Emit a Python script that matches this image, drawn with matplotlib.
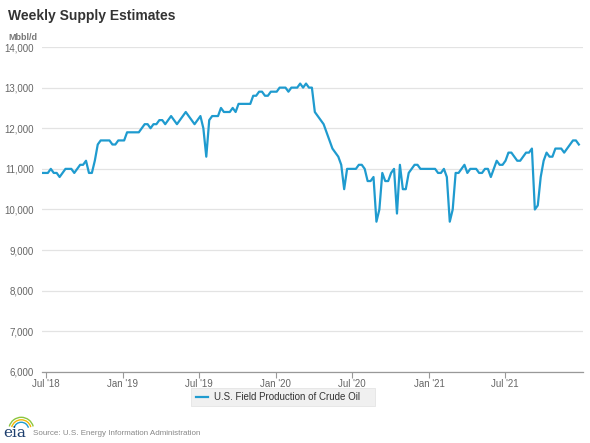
import numpy as np
import pandas as pd
import matplotlib
matplotlib.use("Agg")
import matplotlib.pyplot as plt
from matplotlib.patches import Arc, FancyBboxPatch

plt.rcParams['font.family'] = ['Liberation Sans', 'DejaVu Sans']

# weekly estimates, Mbbl/d (first week ending 2018-06-22)
start_week = "2018-06-22"
production = [
    10900, 10900, 10900, 11000, 10900, 10900, 10800, 10900, 11000, 11000,
    11000, 10900, 11000, 11100, 11100, 11200, 10900, 10900, 11200, 11600,
    11700, 11700, 11700, 11700, 11600, 11600, 11700, 11700, 11700, 11900,
    11900, 11900, 11900, 11900, 12000, 12100, 12100, 12000, 12100, 12100,
    12200, 12200, 12100, 12200, 12300, 12200, 12100, 12200, 12300, 12400,
    12300, 12200, 12100, 12200, 12300, 12000, 11300, 12200, 12300, 12300,
    12300, 12500, 12400, 12400, 12400, 12500, 12400, 12600, 12600, 12600,
    12600, 12600, 12800, 12800, 12900, 12900, 12800, 12800, 12900, 12900,
    12900, 13000, 13000, 13000, 12900, 13000, 13000, 13000, 13100, 13000,
    13100, 13000, 13000, 12400, 12300, 12200, 12100, 11900, 11700, 11500,
    11400, 11300, 11100, 10500, 11000, 11000, 11000, 11000, 11100, 11100,
    11000, 10700, 10700, 10800, 9700, 10000, 10900, 10700, 10700, 10900,
    11000, 9900, 11100, 10500, 10500, 10900, 11000, 11100, 11100, 11000,
    11000, 11000, 11000, 11000, 11000, 10900, 10900, 11000, 10800, 9700,
    10000, 10900, 10900, 11000, 11100, 10900, 11000, 11000, 11000, 10900,
    10900, 11000, 11000, 10800, 11000, 11200, 11100, 11100, 11200, 11400,
    11400, 11300, 11200, 11200, 11300, 11400, 11400, 11500, 10000, 10100,
    10800, 11200, 11400, 11300, 11300, 11500, 11500, 11500, 11400, 11500,
    11600, 11700, 11700, 11600,
]
weeks = pd.date_range(start_week, periods=len(production), freq="7D")

tick_dates = ["2018-07-01", "2019-01-01", "2019-07-01", "2020-01-01",
              "2020-07-01", "2021-01-01", "2021-07-01"]
tick_labels = ["Jul '18", "Jan '19", "Jul '19", "Jan '20",
               "Jul '20", "Jan '21", "Jul '21"]
y_ticks = [6000, 7000, 8000, 9000, 10000, 11000, 12000, 13000, 14000]

line_color = "#1f9bcf"
grey_text = "#666666"

fig = plt.figure(figsize=(5.9, 4.43), dpi=100)
ax = fig.add_axes([0.0712, 0.1603, 0.917, 0.7336])

ax.plot(weeks, production, color=line_color, lw=1.6, solid_joinstyle="round")

ax.set_xlim(pd.Timestamp("2018-06-22"), pd.Timestamp("2022-01-03"))
ax.set_ylim(6000, 14000)
ax.set_yticks(y_ticks)
ax.set_yticklabels([f"{v:,}" for v in y_ticks])
ax.set_xticks(pd.to_datetime(tick_dates))
ax.set_xticklabels(tick_labels)

ax.grid(axis="y", color="#e3e3e3", lw=0.9)
ax.set_axisbelow(True)
for s in ["top", "right", "left"]:
    ax.spines[s].set_visible(False)
ax.spines["bottom"].set_color("#999999")
ax.spines["bottom"].set_linewidth(0.9)

ax.tick_params(axis="y", length=0, pad=6, labelsize=7, labelcolor=grey_text)
ax.tick_params(axis="x", length=4, width=0.8, color="#999999", pad=1,
               labelsize=7, labelcolor=grey_text)

# title and unit
fig.text(0.014, 0.964, "Weekly Supply Estimates", fontsize=10, fontweight="bold",
         color="#333333", va="center", ha="left")
fig.text(0.014, 0.916, "Mbbl/d", fontsize=6.5, fontweight="bold",
         color="#777777", va="center", ha="left")

# legend box
box = FancyBboxPatch((0.323, 0.083), 0.312, 0.042, transform=fig.transFigure,
                     boxstyle="square,pad=0", facecolor="#f0f0f0",
                     edgecolor="#e4e4e4", lw=0.6)
fig.patches.append(box)
fig.lines.append(plt.Line2D([0.333, 0.353], [0.104, 0.104], transform=fig.transFigure,
                            color=line_color, lw=1.6))
fig.text(0.362, 0.104, "U.S. Field Production of Crude Oil", fontsize=7,
         color="#333333", va="center", ha="left")

# eia mark and source
for r, c in [(1.0, "#8cc63f"), (0.8, "#f2b705"), (0.6, "#1f9bcf")]:
    arc = Arc((0.036, 0.030), 0.042 * r, 0.056 * r, theta1=20, theta2=160,
              transform=fig.transFigure, color=c, lw=1.0)
    fig.patches.append(arc)
fig.text(0.005, 0.006, "eia", fontsize=11, family="DejaVu Serif", color="#1d3f6e",
         va="bottom", ha="left")
fig.text(0.056, 0.013, "Source: U.S. Energy Information Administration", fontsize=5.8,
         color="#888888", va="bottom", ha="left")

fig.savefig("out.png", dpi=100)
